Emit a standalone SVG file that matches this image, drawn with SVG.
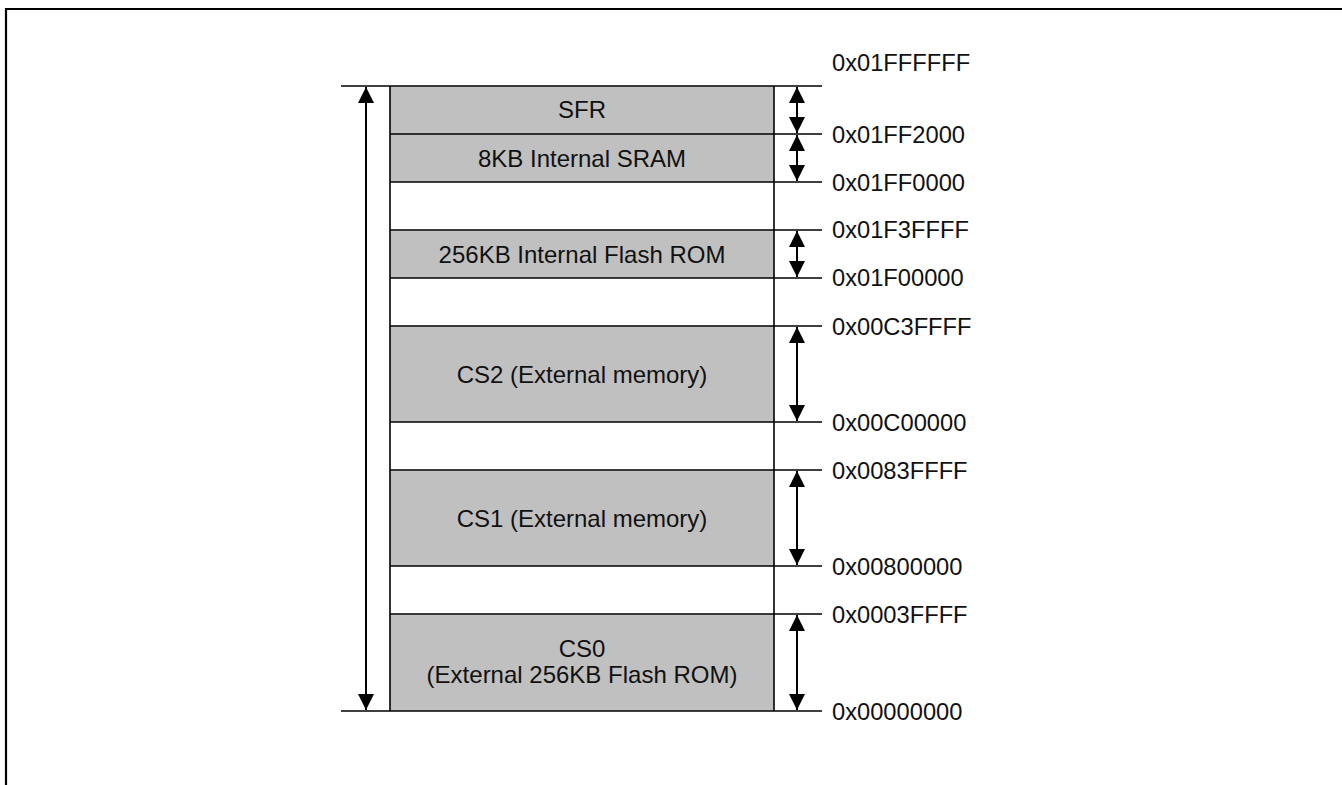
<svg xmlns="http://www.w3.org/2000/svg" width="1342" height="785" viewBox="0 0 1342 785">
<style>
.blk{fill:#c0c0c0;stroke:none}
.ln{stroke:#000;stroke-width:1.6;fill:none}
.ar{stroke:#000;stroke-width:2;fill:none;marker-start:url(#ah);marker-end:url(#ah)}
.bt{font-family:"Liberation Sans",Arial,sans-serif;font-size:24px;fill:#111;text-anchor:middle}
.lb{font-family:"Liberation Sans",Arial,sans-serif;font-size:23.7px;fill:#111}
</style>
<defs>
<marker id="ah" viewBox="0 0 16 16" refX="16" refY="8" markerWidth="16" markerHeight="16" markerUnits="userSpaceOnUse" orient="auto-start-reverse">
<path d="M0,0 L16,8 L0,16 Z" fill="#000"/>
</marker>
</defs>
<rect width="1342" height="785" fill="#fff"/>
<g id="frame">
<path d="M6,785 L6,9 L1342,9" fill="none" stroke="#000" stroke-width="2.2"/>
</g>
<g id="sfr"><rect class="blk" x="390" y="86" width="384" height="48"/><text class="bt" x="582" y="118">SFR</text></g>
<g id="sram"><rect class="blk" x="390" y="134" width="384" height="48"/><text class="bt" x="582" y="166.5">8KB Internal SRAM</text></g>
<g id="flash"><rect class="blk" x="390" y="230" width="384" height="48"/><text class="bt" x="582" y="262.5">256KB Internal Flash ROM</text></g>
<g id="cs2"><rect class="blk" x="390" y="326" width="384" height="96"/><text class="bt" x="582" y="382.5">CS2 (External memory)</text></g>
<g id="cs1"><rect class="blk" x="390" y="470" width="384" height="96"/><text class="bt" x="582" y="526.5">CS1 (External memory)</text></g>
<g id="cs0"><rect class="blk" x="390" y="614" width="384" height="97"/><text class="bt" x="582" y="656.5">CS0</text><text class="bt" x="582" y="683">(External 256KB Flash ROM)</text></g>
<g id="grid">
<line class="ln" x1="390" y1="86" x2="390" y2="711"/>
<line class="ln" x1="774" y1="86" x2="774" y2="711"/>
<line class="ln" x1="341" y1="86" x2="822" y2="86"/>
<line class="ln" x1="390" y1="134" x2="822" y2="134"/>
<line class="ln" x1="390" y1="182" x2="822" y2="182"/>
<line class="ln" x1="390" y1="230" x2="822" y2="230"/>
<line class="ln" x1="390" y1="278" x2="822" y2="278"/>
<line class="ln" x1="390" y1="326" x2="822" y2="326"/>
<line class="ln" x1="390" y1="422" x2="822" y2="422"/>
<line class="ln" x1="390" y1="470" x2="822" y2="470"/>
<line class="ln" x1="390" y1="566" x2="822" y2="566"/>
<line class="ln" x1="390" y1="614" x2="822" y2="614"/>
<line class="ln" x1="341" y1="711" x2="822" y2="711"/>
</g>
<g id="connectors">
<line class="ar" x1="366" y1="87" x2="366" y2="710"/>
<line class="ar" x1="797" y1="87" x2="797" y2="133"/>
<line class="ar" x1="797" y1="135" x2="797" y2="181"/>
<line class="ar" x1="797" y1="231" x2="797" y2="277"/>
<line class="ar" x1="797" y1="327" x2="797" y2="421"/>
<line class="ar" x1="797" y1="471" x2="797" y2="565"/>
<line class="ar" x1="797" y1="615" x2="797" y2="710"/>
</g>
<g id="labels">
<text class="lb" x="832" y="70.5">0x01FFFFFF</text>
<text class="lb" x="832" y="142.5">0x01FF2000</text>
<text class="lb" x="832" y="190.5">0x01FF0000</text>
<text class="lb" x="832" y="237.5">0x01F3FFFF</text>
<text class="lb" x="832" y="285.5">0x01F00000</text>
<text class="lb" x="832" y="334.5">0x00C3FFFF</text>
<text class="lb" x="832" y="430.5">0x00C00000</text>
<text class="lb" x="832" y="478.5">0x0083FFFF</text>
<text class="lb" x="832" y="574.5">0x00800000</text>
<text class="lb" x="832" y="622.5">0x0003FFFF</text>
<text class="lb" x="832" y="719.5">0x00000000</text>
</g>
</svg>
